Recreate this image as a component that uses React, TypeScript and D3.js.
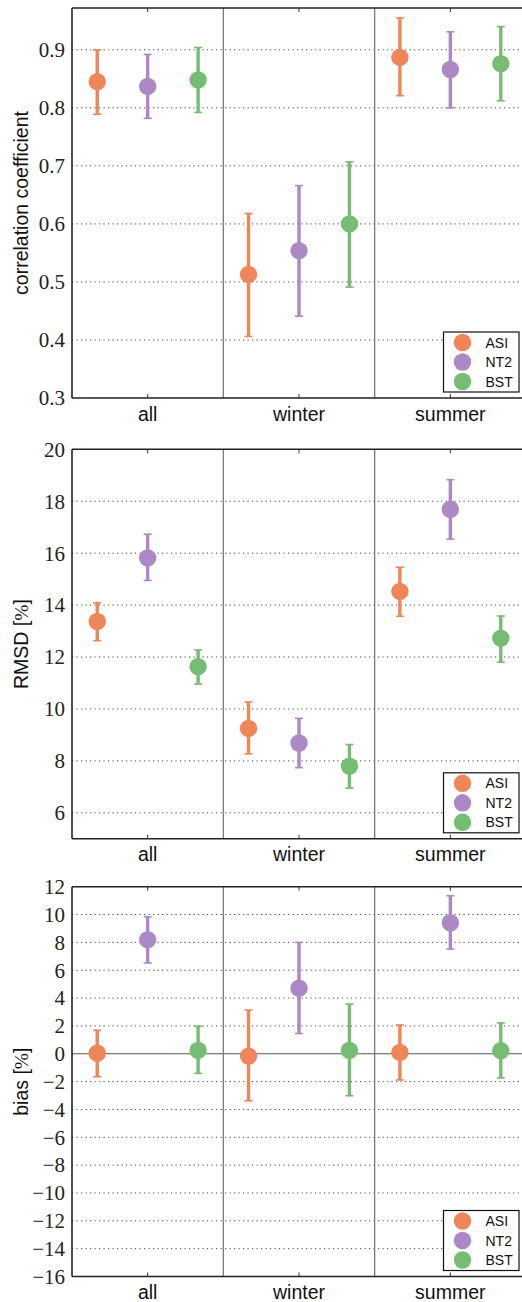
import React from "react";
import * as d3 from "d3";

const categories = ["all", "winter", "summer"];
const series = ["ASI", "NT2", "BST"];
const colors = ["#EF8659", "#AC88C6", "#76BD73"];

// correlation coefficient
const corrASI = [0.845, 0.513, 0.887];
const corrASIHigh = [0.9, 0.618, 0.955];
const corrASILow = [0.789, 0.406, 0.821];
const corrNT2 = [0.837, 0.554, 0.866];
const corrNT2High = [0.892, 0.666, 0.931];
const corrNT2Low = [0.782, 0.441, 0.8];
const corrBST = [0.848, 0.6, 0.876];
const corrBSTHigh = [0.904, 0.707, 0.94];
const corrBSTLow = [0.792, 0.491, 0.812];
const corrTicks = [0.3, 0.4, 0.5, 0.6, 0.7, 0.8, 0.9];

// RMSD [%]
const rmsdASI = [13.37, 9.25, 14.53];
const rmsdASIHigh = [14.09, 10.27, 15.46];
const rmsdASILow = [12.63, 8.27, 13.57];
const rmsdNT2 = [15.82, 8.69, 17.69];
const rmsdNT2High = [16.73, 9.64, 18.83];
const rmsdNT2Low = [14.95, 7.74, 16.54];
const rmsdBST = [11.63, 7.8, 12.73];
const rmsdBSTHigh = [12.27, 8.63, 13.58];
const rmsdBSTLow = [10.96, 6.95, 11.8];
const rmsdTicks = [6, 8, 10, 12, 14, 16, 18, 20];

// bias [%]
const biasASI = [0.04, -0.17, 0.1];
const biasASIHigh = [1.69, 3.14, 2.07];
const biasASILow = [-1.65, -3.38, -1.88];
const biasNT2 = [8.2, 4.71, 9.41];
const biasNT2High = [9.84, 8.0, 11.35];
const biasNT2Low = [6.52, 1.45, 7.52];
const biasBST = [0.24, 0.24, 0.22];
const biasBSTHigh = [1.98, 3.57, 2.22];
const biasBSTLow = [-1.41, -3.02, -1.74];
const biasTicks = [-16, -14, -12, -10, -8, -6, -4, -2, 0, 2, 4, 6, 8, 10, 12];

type Panel = {
  top: number;
  bottom: number;
  domain: [number, number];
  ticks: number[];
  fmt: (v: number) => string;
  label: React.ReactNode;
  mean: number[][];
  high: number[][];
  low: number[][];
  zeroLine?: boolean;
};

const fmtNum = (v: number) => (v < 0 ? "\u2212" + Math.abs(v) : String(v));

const panels: Panel[] = [
  {
    top: 8,
    bottom: 398,
    domain: [0.3, 0.972],
    ticks: corrTicks,
    fmt: (v) => v.toFixed(1),
    label: "correlation coefficient",
    mean: [corrASI, corrNT2, corrBST],
    high: [corrASIHigh, corrNT2High, corrBSTHigh],
    low: [corrASILow, corrNT2Low, corrBSTLow],
  },
  {
    top: 449.3,
    bottom: 838.8,
    domain: [5, 20],
    ticks: rmsdTicks,
    fmt: fmtNum,
    label: (
      <>
        RMSD [<tspan fontFamily="'Liberation Serif', serif">%</tspan>]
      </>
    ),
    mean: [rmsdASI, rmsdNT2, rmsdBST],
    high: [rmsdASIHigh, rmsdNT2High, rmsdBSTHigh],
    low: [rmsdASILow, rmsdNT2Low, rmsdBSTLow],
  },
  {
    top: 886.7,
    bottom: 1276.5,
    domain: [-16, 12],
    ticks: biasTicks,
    fmt: fmtNum,
    label: (
      <>
        bias [<tspan fontFamily="'Liberation Serif', serif">%</tspan>]
      </>
    ),
    mean: [biasASI, biasNT2, biasBST],
    high: [biasASIHigh, biasNT2High, biasBSTHigh],
    low: [biasASILow, biasNT2Low, biasBSTLow],
    zeroLine: true,
  },
];

const LEFT = 72;
const RIGHT = 526;
const SANS = "'Liberation Sans', Arial, Helvetica, sans-serif";
const SERIF = "'Liberation Serif', 'Times New Roman', serif";

function PanelView({ p }: { p: Panel }) {
  const x = d3.scaleBand<string>().domain(categories).range([LEFT, RIGHT]).padding(0);
  const bw = x.bandwidth();
  const xs = d3.scaleBand<string>().domain(series).range([0, bw]).padding(0);
  const y = d3.scaleLinear().domain(p.domain).range([p.bottom, p.top]);
  const [d0, d1] = p.domain;
  const legX = 443.5;
  const legW = 75.5;
  const legH = 60;
  const legY = p.bottom - 6 - legH;
  return (
    <g>
      {/* grid */}
      {p.ticks
        .filter((t) => t > d0 && t < d1 && !(p.zeroLine && t === 0))
        .map((t) => (
          <line
            key={"g" + t}
            x1={LEFT}
            x2={RIGHT}
            y1={y(t)}
            y2={y(t)}
            stroke="#444"
            strokeWidth={1}
            strokeDasharray="1.2,3.3"
          />
        ))}
      {p.zeroLine && (
        <line x1={LEFT} x2={RIGHT} y1={y(0)} y2={y(0)} stroke="#555" strokeWidth={1.2} />
      )}
      {/* separators */}
      {categories.slice(1).map((c) => (
        <line
          key={"s" + c}
          x1={x(c)!}
          x2={x(c)!}
          y1={p.top}
          y2={p.bottom}
          stroke="#7a7a7a"
          strokeWidth={1.3}
        />
      ))}
      {/* x ticks inward */}
      {categories.map((c) => {
        const cx = x(c)! + bw / 2;
        return (
          <g key={"xt" + c}>
            <line x1={cx} x2={cx} y1={p.bottom} y2={p.bottom - 4} stroke="#333" strokeWidth={1} />
            <line x1={cx} x2={cx} y1={p.top} y2={p.top + 4} stroke="#333" strokeWidth={1} />
            <text
              x={cx}
              y={p.bottom + 22.5}
              textAnchor="middle"
              fontFamily={SANS}
              fontSize={19.5}
              fill="#111"
            >
              {c}
            </text>
          </g>
        );
      })}
      {/* y tick labels */}
      {p.ticks.map((t) => (
        <text
          key={"yt" + t}
          x={65}
          y={y(t)}
          dy="0.35em"
          textAnchor="end"
          fontFamily={SERIF}
          fontSize={21}
          fill="#222"
        >
          {p.fmt(t)}
        </text>
      ))}
      {/* spines */}
      <line x1={LEFT} x2={RIGHT} y1={p.top} y2={p.top} stroke="#222" strokeWidth={1.6} />
      <line x1={LEFT} x2={RIGHT} y1={p.bottom} y2={p.bottom} stroke="#222" strokeWidth={1.6} />
      <line x1={LEFT} x2={LEFT} y1={p.top} y2={p.bottom} stroke="#222" strokeWidth={1.6} />
      {/* y label */}
      <text
        transform={`translate(27.5,${(p.top + p.bottom) / 2}) rotate(-90)`}
        textAnchor="middle"
        fontFamily={SANS}
        fontSize={19.5}
        fill="#111"
      >
        {p.label}
      </text>
      {/* error bars and points */}
      {series.map((s, si) =>
        categories.map((c, ci) => {
          const cx = x(c)! + xs(s)! + xs.bandwidth() / 2;
          const hi = y(p.high[si][ci]);
          const lo = y(p.low[si][ci]);
          return (
            <g key={s + c}>
              <line x1={cx} x2={cx} y1={hi} y2={lo} stroke={colors[si]} strokeWidth={3.4} />
              <line x1={cx - 4} x2={cx + 4} y1={hi} y2={hi} stroke={colors[si]} strokeWidth={1.6} />
              <line x1={cx - 4} x2={cx + 4} y1={lo} y2={lo} stroke={colors[si]} strokeWidth={1.6} />
              <circle cx={cx} cy={y(p.mean[si][ci])} r={8.7} fill={colors[si]} />
            </g>
          );
        })
      )}
      {/* legend */}
      <rect x={legX} y={legY} width={legW} height={legH} fill="#fff" stroke="#111" strokeWidth={1.2} />
      {series.map((s, si) => {
        const ry = legY + 10.5 + si * 19.5;
        return (
          <g key={"leg" + s}>
            <circle cx={462.5} cy={ry} r={8.7} fill={colors[si]} />
            <text x={485.5} y={ry} dy="0.36em" fontFamily={SANS} fontSize={14} fill="#111">
              {s}
            </text>
          </g>
        );
      })}
    </g>
  );
}

export default function App() {
  return (
    <svg
      width={522}
      height={1302}
      style={{ position: "absolute", left: 0, top: 0, background: "#fff" }}
    >
      <rect x={0} y={0} width={522} height={1302} fill="#fff" />
      {panels.map((p, i) => (
        <PanelView key={i} p={p} />
      ))}
    </svg>
  );
}
